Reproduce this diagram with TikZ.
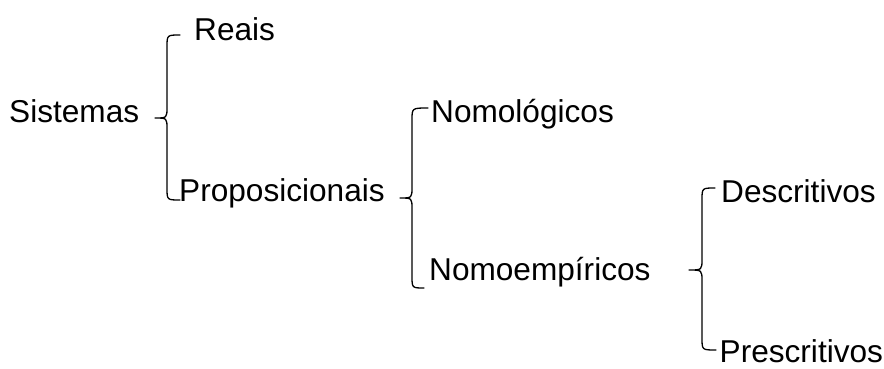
\documentclass[tikz,border=0pt]{standalone}
\usepackage{fontspec}
\setmainfont{Liberation Sans}
\begin{document}
\begin{tikzpicture}[x=1pt,y=-1pt,
  lbl/.style={anchor=base west,inner sep=0pt,font=\fontsize{31.6}{36}\selectfont},
  brace/.style={line width=1.3pt,line join=round,line cap=round}]
\useasboundingbox (0,0) rectangle (884,369);
\node[lbl] (sis) at (9,122) {Sistemas};
\node[lbl] (rea) at (194,41) {Reais};
\node[lbl] (pro) at (179,201) {Proposicionais};
\node[lbl] (nlo) at (431,122) {Nomológicos};
\node[lbl] (nem) at (429,280) {Nomoempíricos};
\node[lbl] (des) at (721,202) {Descritivos};
\node[lbl] (pre) at (719.5,362) {Prescritivos};
% brace 1
\draw[brace] (180,35) .. controls (167,35) .. (167,47) -- (167,107)
  .. controls (167,118) .. (155,118) .. controls (167,118) .. (167,129)
  -- (167,188) .. controls (167,200) .. (180,200);
% brace 2
\draw[brace] (428,108) .. controls (412,108) .. (412,120) -- (412,187)
  .. controls (412,198) .. (400,198) .. controls (412,198) .. (412,209)
  -- (412,276) .. controls (412,288) .. (424,288);
% brace 3
\draw[brace] (715,188) .. controls (702,188) .. (702,200) -- (702,259)
  .. controls (702,270) .. (689,270) .. controls (702,270) .. (702,281)
  -- (702,338) .. controls (702,350) .. (716,350);
\end{tikzpicture}
\end{document}
